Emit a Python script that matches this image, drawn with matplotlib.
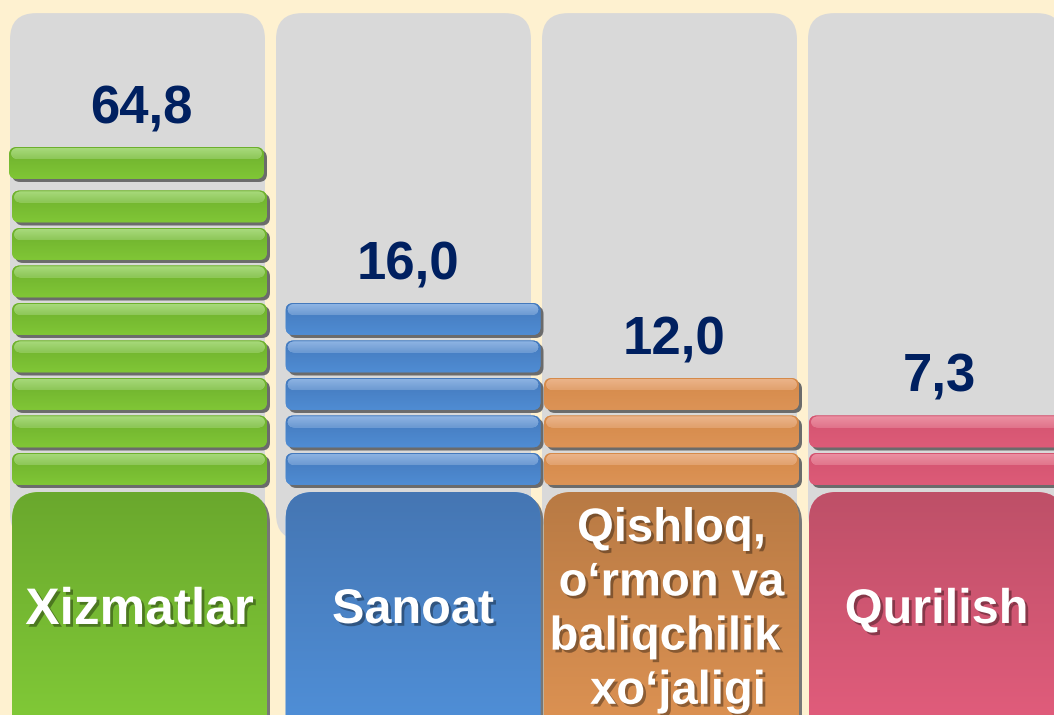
import matplotlib
matplotlib.use("Agg")
import matplotlib.pyplot as plt
import matplotlib.patheffects as pe
from matplotlib.patches import FancyBboxPatch
from matplotlib.colors import to_rgb
import numpy as np

# data
categories = ["Xizmatlar", "Sanoat", "Qishloq,\no\u2018rmon va\nbaliqchilik \n xo\u2018jaligi", "Qurilish"]
values = [64.8, 16.0, 12.0, 7.3]
slabs = [9, 5, 3, 2]
value_labels = ["64,8", "16,0", "12,0", "7,3"]

# colours: (label top, label bottom, slab top, slab bottom, highlight)
palette = [
    ("#6AA82D", "#80C837", "#6DAF2D", "#80C636", "#A8DA7C"),
    ("#4576B3", "#4F8ED6", "#4479BC", "#4F8CD3", "#8FB5E4"),
    ("#B87A44", "#DB9152", "#D58A4A", "#DC9356", "#ECB58C"),
    ("#BE5068", "#E05C7B", "#D35470", "#DD5B78", "#EC91A3"),
]
label_size = [37, 35, 34, 35]

PX_X = 266.0   # pixels per category
PX_Y = 37.5    # pixels per slab
ASP = PX_X / PX_Y

def px(n):
    return n / PX_X

def py(n):
    return n / PX_Y

fig = plt.figure(figsize=(10.54, 7.15), dpi=100)
fig.patch.set_facecolor("#FEF1D0")
ax = fig.add_axes([0, 0, 1, 1])
ax.set_facecolor("#FEF1D0")
xlim = (-137.5 / PX_X, (1054 - 137.5) / PX_X)
ylim = (-(715 - 490.5) / PX_Y, 490.5 / PX_Y)


def rbox(x0, y0, w, h, r, **kw):
    p = FancyBboxPatch((x0, y0), w, h, boxstyle=f"round,pad=0,rounding_size={r}",
                       mutation_aspect=ASP, **kw)
    ax.add_patch(p)
    return p


def mix(c1, c2, t):
    a, b = np.array(to_rgb(c1)), np.array(to_rgb(c2))
    return tuple(a * (1 - t) + b * t)


def gradient(patch, x0, y0, w, h, c_top, c_bot, z):
    t = np.linspace(0, 1, 64)[:, None]
    a, b = np.array(to_rgb(c_top)), np.array(to_rgb(c_bot))
    img = (a * (1 - t) + b * t)[:, None, :]
    im = ax.imshow(img, extent=[x0, x0 + w, y0, y0 + h], origin="upper",
                   aspect="auto", zorder=z, interpolation="bilinear")
    im.set_clip_path(patch)


shadow = [pe.SimplePatchShadow(offset=(2, -2), shadow_rgbFace="black", alpha=0.35), pe.Normal()]
shift = [2, 9.5, 2, 1]
W = px(255)
for i, (cat, n) in enumerate(zip(categories, slabs)):
    lt, lb, st, sb, hl = palette[i]
    # grey column
    rbox(i - W / 2, -1.32, W, 12.73 + 1.32, px(26), fc="#D9D9D9", ec="none", zorder=1)

    xc = i + px(shift[i])
    # slabs
    top = 0
    for k in range(n):
        x0, y0, h = xc - W / 2, k + 0.147, 0.853
        if i == 0 and k == n - 1:
            x0, y0 = x0 - px(3), y0 + 0.16
        rbox(x0 + px(3), y0 - py(3), W, h, px(8), fc="#6B6B6B", ec="none", zorder=2)
        body = rbox(x0, y0, W, h, px(8), fc=sb, ec="none", zorder=3)
        gradient(body, x0, y0, W, h, st, sb, 3.1)
        hh = py(11)
        hb = rbox(x0 + px(2), y0 + h - hh - py(1), W - px(4), hh, px(7),
                  fc=hl, ec="none", zorder=3.2)
        gradient(hb, x0, y0 + h - hh - py(1), W, hh, hl, mix(hl, st, 0.45), 3.2)
        top = y0 + h

    ax.text(i + px(4), top + 1.0, value_labels[i], ha="center", va="center",
            fontsize=38, fontweight="bold", color="#002060",
            family="Liberation Sans", zorder=5)

    # label box
    lx0, ly0, lh = xc - W / 2, -7.5, 7.5 - 0.04
    rbox(lx0 + px(3), ly0 - py(3), W, lh, px(28), fc="#777777", ec="none", zorder=2)
    lab = rbox(lx0, ly0, W, lh, px(28), fc=lb, ec="none", zorder=3)
    gradient(lab, lx0, -0.04 - 6.0, W, 6.0, lt, lb, 3.1)
    ax.text(xc, -3.2, cat, ha="center", va="center", fontsize=label_size[i],
            fontweight="bold", color="white", family="Liberation Sans",
            linespacing=1.3, zorder=6, path_effects=shadow)

ax.set_xlim(*xlim)
ax.set_ylim(*ylim)
ax.axis("off")
fig.savefig("out.png", dpi=100, facecolor=fig.get_facecolor())
